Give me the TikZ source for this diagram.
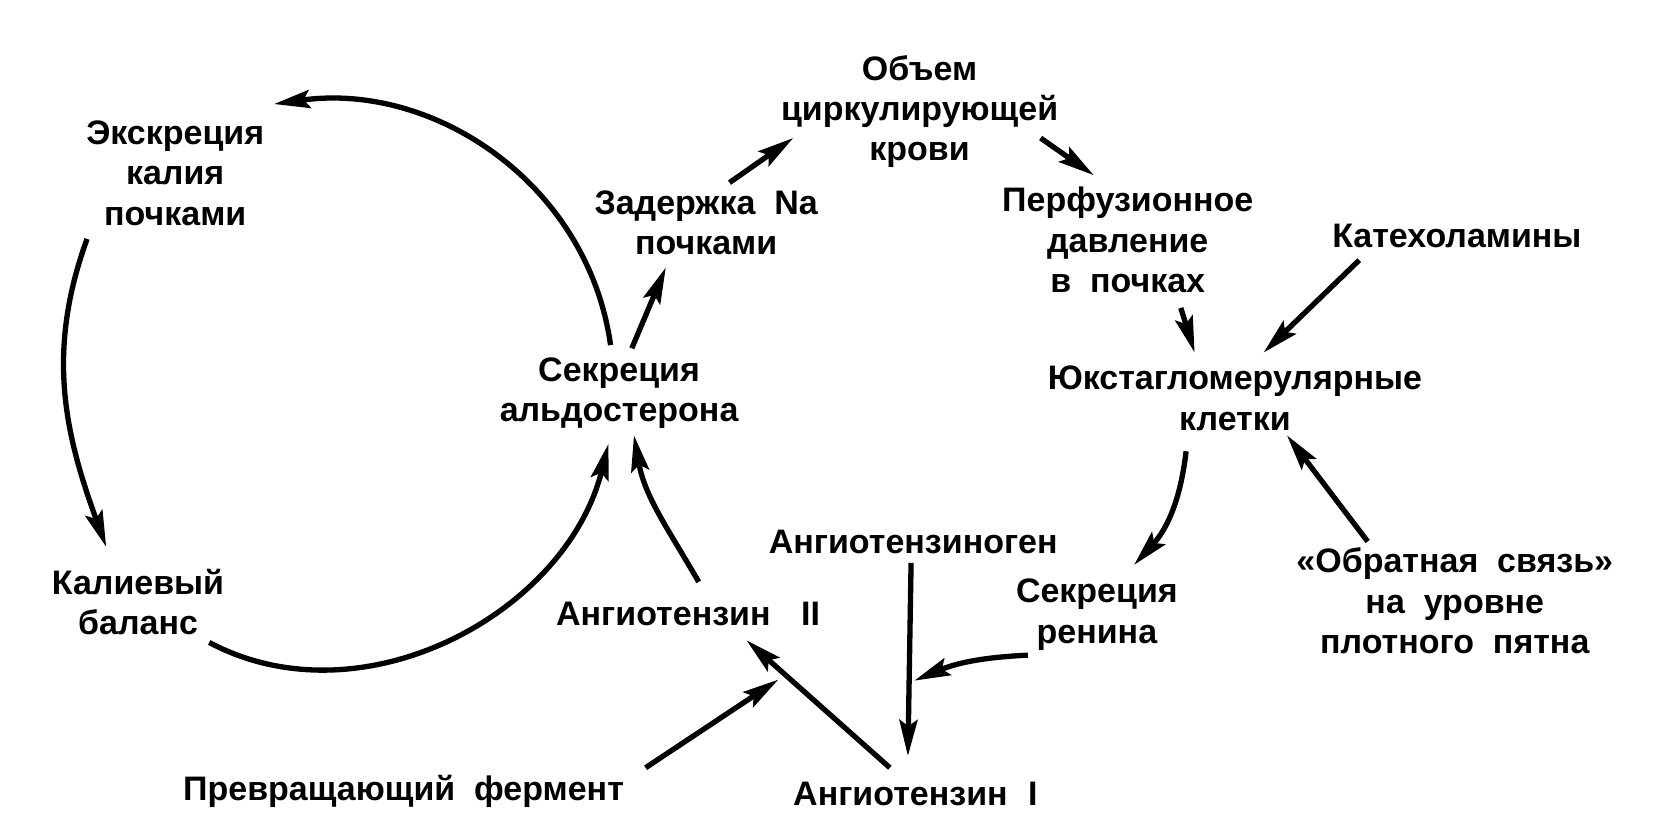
\documentclass[tikz,border=0pt]{standalone}
\usepackage{fontspec}
\setmainfont{Liberation Sans}
\usepackage{tikz}
\usetikzlibrary{positioning,arrows.meta}
\def\sp{\ \ }

\begin{document}
\begin{tikzpicture}[>={Stealth[width=17pt,length=34pt,inset=6pt]}, line width=5pt, lbl/.style={align=center, inner sep=2pt, font=\bfseries\fontsize{32pt}{38pt}\selectfont}]
\useasboundingbox (0pt, 0pt) rectangle (1568pt, -791pt);
\draw (165.0pt, -163.0pt)node[lbl](0){Экскреция\\калия\\почками};
\draw (130.0pt, -567.0pt)node[lbl](1){Калиевый\\баланс};
\draw (583.0pt, -370.0pt)node[lbl](2){Секреция\\альдостерона};
\draw (665.0pt, -210.0pt)node[lbl](3){Задержка\sp Na\\почками};
\draw (866.0pt, -105.0pt)node[lbl](4){Объем\\циркулирующей\\крови};
\draw (1062.0pt, -226.0pt)node[lbl](5){Перфузионное\\давление\\в\sp почках};
\draw (1372.0pt, -222.0pt)node[lbl](6){Катехоламины};
\draw (1163.0pt, -375.0pt)node[lbl](7){Юкстагломерулярные\\клетки};
\draw (860.0pt, -510.0pt)node[lbl](8){Ангиотензиноген};
\draw (1033.0pt, -579.0pt)node[lbl](9){Секреция\\ренина};
\draw (1370.0pt, -566.0pt)node[lbl](10){«Обратная\sp связь»\\на\sp уровне\\плотного\sp пятна};
\draw (648.0pt, -578.0pt)node[lbl](11){Ангиотензин\hspace{0.9em}II};
\draw (380.0pt, -745.0pt)node[lbl](12){Превращающий\sp фермент};
\draw (862.0pt, -748.0pt)node[lbl](13){Ангиотензин\hspace{0.6em}I};
\draw (861.0pt, -641.0pt)coordinate(14);
\draw (733.0pt, -640.0pt)coordinate(15);
\path[->] ([xshift=-8pt,yshift=45pt]2.center) edge[out=98,in=8] ([xshift=93pt,yshift=65pt]0.center);
\path[->] ([xshift=-83pt,yshift=-62pt]0.center) edge[out=250,in=110] ([xshift=-30pt,yshift=52pt]1.center);
\path[->] ([xshift=67pt,yshift=-38pt]1.center) edge[out=-28,in=256] ([xshift=-10pt,yshift=-48pt]2.center);
\path[->] ([xshift=12pt,yshift=42pt]2.center) edge ([xshift=-38pt,yshift=-42pt]3.center);
\path[->] ([xshift=22pt,yshift=38pt]3.center) edge ([xshift=-119pt,yshift=-25pt]4.center);
\path[->] ([xshift=114pt,yshift=-25pt]4.center) edge ([xshift=-32pt,yshift=61pt]5.center);
\path[->] ([xshift=50pt,yshift=-64pt]5.center) edge ([xshift=-38pt,yshift=43pt]7.center);
\path[->] ([xshift=-92pt,yshift=-23pt]6.center) edge ([xshift=27pt,yshift=43pt]7.center);
\path[->] ([xshift=-46pt,yshift=-50pt]7.center) edge[bend left=18] ([xshift=35pt,yshift=47pt]9.center);
\path[->] ([xshift=-82pt,yshift=56pt]10.center) edge ([xshift=49pt,yshift=-35pt]7.center);
\path[->] ([xshift=-2pt,yshift=-20pt]8.center) edge ([xshift=-7pt,yshift=36pt]13.center);
\path[->] ([xshift=-65pt,yshift=-38pt]9.center) edge[bend right=10] (14);
\path[->] ([xshift=-24pt,yshift=25pt]13.center) edge ([xshift=55pt,yshift=-25pt]11.center);
\path[->] ([xshift=228pt,yshift=22pt]12.center) edge (15);
\path[->] ([xshift=10pt,yshift=30pt]11.center) edge[out=120,in=-80] ([xshift=14pt,yshift=-40pt]2.center);
\end{tikzpicture}
\end{document}
